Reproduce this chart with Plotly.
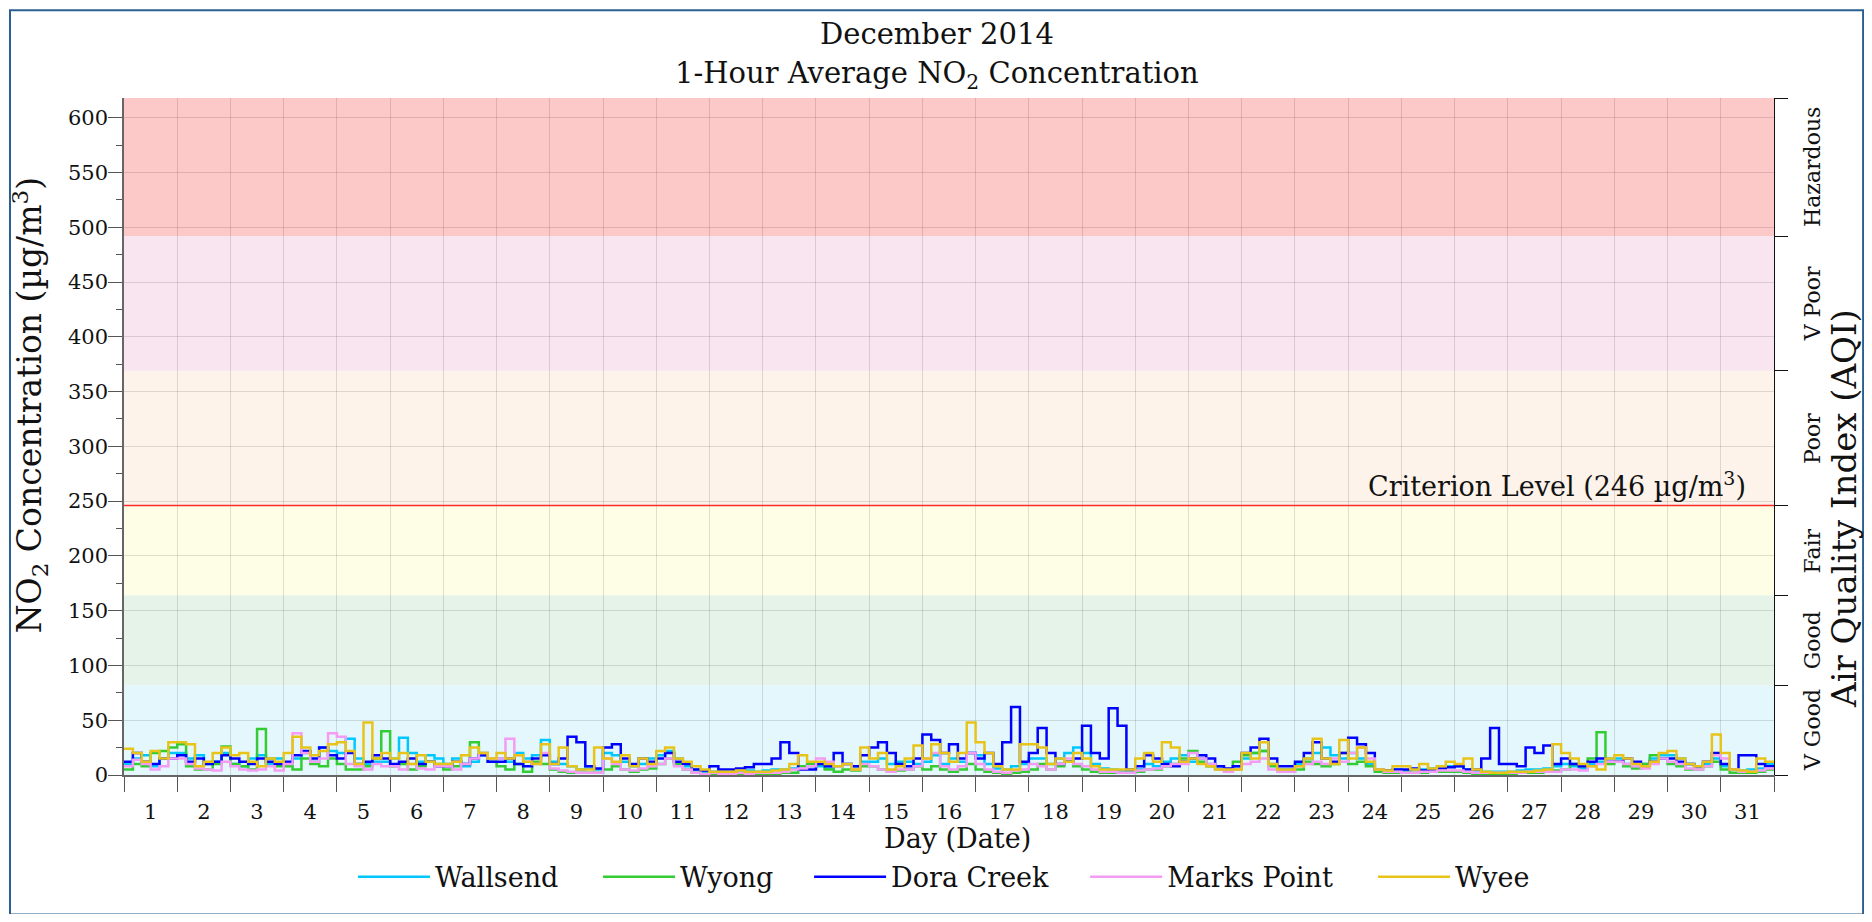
import plotly.graph_objects as go

# ---------------- data (4-hour blocks, 6 per day, days 1..31) ----------------
days = list(range(1, 32))
block_hours = 4

wallsend = [
    10, 15, 18, 8, 15, 20,    20, 15, 18, 10, 12, 20,   10, 8, 15, 18, 10, 15,
    10, 15, 20, 12, 25, 22,   20, 33, 15, 10, 12, 12,   15, 34, 20, 12, 18, 15,
    10, 15, 8, 12, 18, 15,    15, 12, 20, 15, 18, 32,   12, 10, 8, 5, 6, 5,
    20, 18, 12, 8, 10, 15,    18, 22, 15, 8, 5, 3,      3, 3, 2, 3, 4, 3,
    4, 5, 5, 6, 8, 8,         8, 6, 8, 10, 8, 12,       12, 15, 10, 12, 12, 10,
    12, 18, 10, 15, 12, 20,   18, 10, 6, 5, 8, 10,      15, 15, 10, 15, 20, 25,
    20, 10, 6, 5, 4, 3,       5, 10, 8, 12, 15, 18,     12, 15, 10, 6, 5, 8,
    15, 20, 22, 10, 5, 5,     10, 15, 20, 25, 18, 15,   20, 15, 10, 5, 4, 5,
    4, 5, 5, 6, 8, 8,         8, 5, 4, 3, 3, 3,         3, 4, 5, 5, 6, 8,
    10, 8, 6, 10, 12, 15,     15, 10, 8, 10, 15, 18,    18, 15, 10, 8, 10, 15,
    8, 5, 4, 5, 6, 10,
]
wyong = [
    5, 10, 8, 20, 22, 25,     28, 8, 5, 5, 10, 26,      10, 8, 5, 42, 15, 8,
    8, 5, 15, 10, 8, 15,      10, 5, 5, 8, 15, 40,      8, 10, 5, 8, 12, 10,
    5, 8, 10, 30, 20, 12,     8, 5, 10, 3, 12, 10,      5, 3, 2, 2, 2, 2,
    5, 8, 5, 3, 5, 6,         10, 15, 10, 5, 2, 1,      1, 1, 1, 1, 1, 1,
    1, 1, 2, 2, 8, 10,        10, 5, 3, 5, 4, 8,        8, 5, 3, 4, 5, 8,
    5, 8, 5, 3, 5, 10,        5, 3, 2, 1, 2, 3,         5, 10, 5, 8, 12, 8,
    5, 3, 2, 2, 2, 2,         3, 5, 5, 8, 10, 15,       22, 12, 8, 5, 4, 12,
    18, 20, 22, 8, 3, 3,      5, 12, 10, 8, 10, 20,     10, 12, 8, 3, 2, 2,
    2, 2, 2, 3, 3, 3,         3, 2, 1, 1, 1, 1,         1, 2, 2, 2, 3, 4,
    5, 10, 8, 15, 39, 10,     12, 8, 6, 10, 18, 15,     10, 8, 5, 5, 8, 12,
    5, 2, 2, 2, 3, 5,
]
dora_creek = [
    12, 20, 12, 10, 15, 15,   18, 12, 15, 10, 12, 18,   15, 12, 10, 15, 12, 10,
    12, 18, 22, 15, 25, 18,   15, 20, 10, 12, 18, 15,   10, 12, 15, 10, 12, 8,
    8, 12, 10, 15, 18, 12,    12, 15, 10, 8, 15, 18,    10, 15, 35, 30, 8, 6,
    25, 28, 15, 10, 15, 12,   15, 20, 12, 10, 5, 4,     8, 5, 5, 6, 7, 10,
    10, 15, 30, 20, 5, 5,     10, 8, 20, 10, 8, 18,     25, 30, 20, 10, 8, 15,
    37, 32, 20, 28, 15, 20,   15, 20, 10, 30, 62, 12,   20, 43, 20, 10, 12, 15,
    45, 20, 15, 61, 45, 5,    8, 18, 15, 10, 8, 12,     15, 18, 15, 8, 6, 8,
    20, 25, 33, 15, 8, 8,     12, 20, 30, 15, 12, 20,   34, 28, 20, 5, 4, 5,
    5, 6, 4, 5, 6, 7,         8, 5, 5, 15, 43, 10,      10, 8, 25, 20, 27, 10,
    15, 10, 8, 12, 15, 12,    12, 15, 12, 8, 12, 15,    15, 12, 10, 8, 12, 20,
    10, 5, 18, 18, 10, 8,
]
marks_point = [
    8, 14, 10, 5, 8, 15,      15, 10, 6, 5, 4, 12,      8, 5, 4, 5, 8, 4,
    10, 38, 20, 12, 15, 38,   35, 10, 8, 5, 10, 8,      8, 5, 10, 6, 5, 8,
    8, 5, 10, 15, 20, 15,     15, 33, 18, 12, 10, 20,   6, 4, 3, 2, 2, 2,
    15, 10, 5, 4, 6, 8,       10, 15, 8, 5, 2, 1,       2, 1, 1, 2, 1, 2,
    2, 2, 3, 5, 6, 8,         15, 12, 8, 10, 5, 10,     8, 5, 3, 5, 5, 8,
    15, 20, 8, 5, 8, 20,      10, 5, 3, 2, 4, 5,        10, 8, 5, 10, 15, 10,
    8, 5, 3, 3, 2, 2,         4, 5, 6, 8, 10, 10,       20, 15, 10, 5, 3, 5,
    10, 12, 15, 5, 3, 3,      8, 10, 12, 10, 15, 12,    20, 25, 15, 5, 3, 3,
    2, 2, 3, 3, 4, 4,         4, 3, 2, 2, 2, 2,         2, 2, 3, 3, 3, 3,
    5, 5, 4, 8, 10, 12,       12, 10, 8, 6, 10, 15,     12, 10, 6, 5, 8, 18,
    15, 5, 3, 3, 4, 6,
]
wyee = [
    24, 20, 12, 22, 15, 30,   30, 28, 8, 12, 20, 25,    18, 20, 12, 8, 15, 12,
    20, 35, 25, 18, 22, 28,   30, 22, 10, 48, 15, 20,   15, 20, 10, 18, 12, 10,
    10, 12, 18, 25, 20, 15,   20, 15, 18, 12, 10, 28,   10, 25, 8, 5, 5, 25,
    15, 12, 18, 8, 15, 10,    22, 25, 15, 12, 8, 5,     3, 3, 3, 4, 3, 3,
    3, 4, 5, 10, 18, 12,      12, 10, 8, 10, 5, 25,     15, 20, 5, 8, 15, 27,
    15, 28, 20, 12, 20, 48,   30, 20, 8, 5, 5, 28,      28, 25, 10, 15, 12, 20,
    15, 8, 5, 5, 5, 5,        15, 20, 12, 30, 25, 12,   15, 10, 8, 5, 5, 5,
    20, 15, 30, 10, 5, 5,     8, 15, 33, 15, 10, 32,    15, 25, 12, 5, 4, 8,
    8, 5, 10, 6, 8, 12,       10, 15, 5, 3, 2, 2,       3, 3, 3, 4, 5, 28,
    20, 15, 10, 8, 5, 15,     18, 15, 10, 8, 12, 20,    22, 15, 10, 8, 12, 37,
    20, 5, 4, 3, 15, 12,
]

series_names = ["Wallsend", "Wyong", "Dora Creek", "Marks Point", "Wyee"]
series_values = [wallsend, wyong, dora_creek, marks_point, wyee]
series_colors = ["#00c8ff", "#33cc33", "#0000ff", "#f49cf4", "#e8c41a"]

# AQI bands (µg/m³)
band_edges = [0, 82, 164, 246, 369, 492, 618]
band_labels = ["V Good", "Good", "Fair", "Poor", "V Poor", "Hazardous"]
band_colors = ["#e4f7fc", "#e6f3e9", "#fefee6", "#fdf3ea", "#f9e5ef", "#fcc8c8"]
criterion = 246

FONT = "DejaVu Serif"
TXT = "#111111"

# layout positions (paper x) of the legend entries
legend_x = [0.1388, 0.2873, 0.4152, 0.5825, 0.7570]

fig = go.Figure()

n = len(wallsend)
xs = [1 + i * block_hours / 24 for i in range(n)] + [1 + n * block_hours / 24]
legend_ids = ["legend", "legend2", "legend3", "legend4", "legend5"]
for name, vals, col, lid in zip(series_names, series_values, series_colors, legend_ids):
    fig.add_trace(go.Scatter(
        x=xs, y=list(vals) + [vals[-1]], mode="lines", name=name, legend=lid,
        line=dict(color=col, width=2.5, shape="hv"),
    ))

# dummy trace so the right axis is drawn
fig.add_trace(go.Scatter(x=[1], y=[0], yaxis="y2", mode="markers",
                         marker=dict(opacity=0), showlegend=False, hoverinfo="skip"))

# bands
for lo, hi, col in zip(band_edges[:-1], band_edges[1:], band_colors):
    fig.add_shape(type="rect", xref="paper", yref="y", x0=0, x1=1, y0=lo, y1=hi,
                  fillcolor=col, line_width=0, layer="below")

# criterion line
fig.add_shape(type="line", xref="paper", yref="y", x0=0, x1=1, y0=criterion, y1=criterion,
              line=dict(color="#ff2a2a", width=1.5), layer="above")
fig.add_annotation(xref="paper", yref="y", x=0.984, y=criterion, yshift=2,
                   xanchor="right", yanchor="bottom", showarrow=False,
                   text="Criterion Level (246 µg/m<sup>3</sup>)",
                   font=dict(family=FONT, size=27, color=TXT))

# band labels on right
for lo, hi, lab in zip(band_edges[:-1], band_edges[1:], band_labels):
    fig.add_annotation(xref="paper", yref="y", x=1.023, y=(lo + hi) / 2,
                       text=lab, textangle=-90, showarrow=False,
                       xanchor="center", yanchor="middle",
                       font=dict(family=FONT, size=22, color=TXT))

# axis titles
fig.add_annotation(xref="paper", yref="paper", x=1.0428, y=0.394,
                   text="Air Quality Index (AQI)", textangle=-90, showarrow=False,
                   xanchor="center", yanchor="middle",
                   font=dict(family=FONT, size=34, color=TXT))
fig.add_annotation(xref="paper", yref="paper", x=-0.057, y=0.546,
                   text="NO<sub>2</sub> Concentration (µg/m<sup>3</sup>)", textangle=-90,
                   showarrow=False, xanchor="center", yanchor="middle",
                   font=dict(family=FONT, size=33, color=TXT))
fig.add_annotation(xref="paper", yref="paper", x=0.505, y=-0.0935,
                   text="Day (Date)", showarrow=False, xanchor="center", yanchor="middle",
                   font=dict(family=FONT, size=27, color=TXT))

# titles
fig.add_annotation(xref="paper", yref="paper", x=0.493, y=1.095,
                   text="December 2014", showarrow=False, xanchor="center", yanchor="middle",
                   font=dict(family=FONT, size=29, color=TXT))
fig.add_annotation(xref="paper", yref="paper", x=0.493, y=1.034,
                   text="1-Hour Average NO<sub>2</sub> Concentration", showarrow=False,
                   xanchor="center", yanchor="middle",
                   font=dict(family=FONT, size=29, color=TXT))

# outer frame
fig.add_shape(type="rect", xref="paper", yref="paper",
              x0=-0.0691, x1=1.054, y0=-0.206, y1=1.1295,
              line=dict(color="#2b5f91", width=2), fillcolor="rgba(0,0,0,0)", layer="above")

legend_style = dict(orientation="h", xanchor="left", y=-0.151, yanchor="middle",
                    font=dict(family=FONT, size=27, color=TXT), itemwidth=72,
                    bgcolor="rgba(0,0,0,0)")
legends = {lid: dict(x=lx, **legend_style) for lid, lx in zip(legend_ids, legend_x)}

grid_col = "rgba(0,0,0,0.12)"
fig.update_layout(
    width=1856, height=906,
    margin=dict(l=116, r=90, t=90, b=136),
    paper_bgcolor="white", plot_bgcolor="white",
    font=dict(family=FONT, size=21, color=TXT),
    showlegend=True,
    **legends,
    xaxis=dict(
        range=[1, 32], tickvals=[d + 0.5 for d in days], ticktext=[str(d) for d in days],
        ticks="outside", ticklen=17, tickcolor="rgba(0,0,0,0)", showgrid=False,
        zeroline=False, showline=True, linecolor="#666", linewidth=1.5,
        tickfont=dict(family=FONT, size=21, color=TXT),
        minor=dict(tickvals=[d for d in days] + [32], ticks="outside", ticklen=15,
                   tickcolor="#555", tickwidth=1.2, showgrid=True, gridcolor=grid_col,
                   gridwidth=1),
    ),
    yaxis=dict(
        range=[0, 618], tickvals=list(range(0, 601, 50)), ticks="outside", ticklen=14,
        tickcolor="#555", tickwidth=1.2, showgrid=True, gridcolor=grid_col, gridwidth=1,
        zeroline=False, showline=True, linecolor="#666", linewidth=1.5,
        ticklabelstandoff=-4,
        tickfont=dict(family=FONT, size=21, color=TXT),
        minor=dict(dtick=25, tick0=0, ticks="outside", ticklen=6, tickcolor="#555",
                   showgrid=False),
    ),
    yaxis2=dict(
        overlaying="y", side="right", range=[0, 618], tickvals=band_edges,
        ticks="outside", ticklen=13, tickcolor="#111", showticklabels=False,
        showgrid=False, zeroline=False, showline=True, linecolor="#111", linewidth=1.2,
    ),
)

fig.write_html("out.html")
